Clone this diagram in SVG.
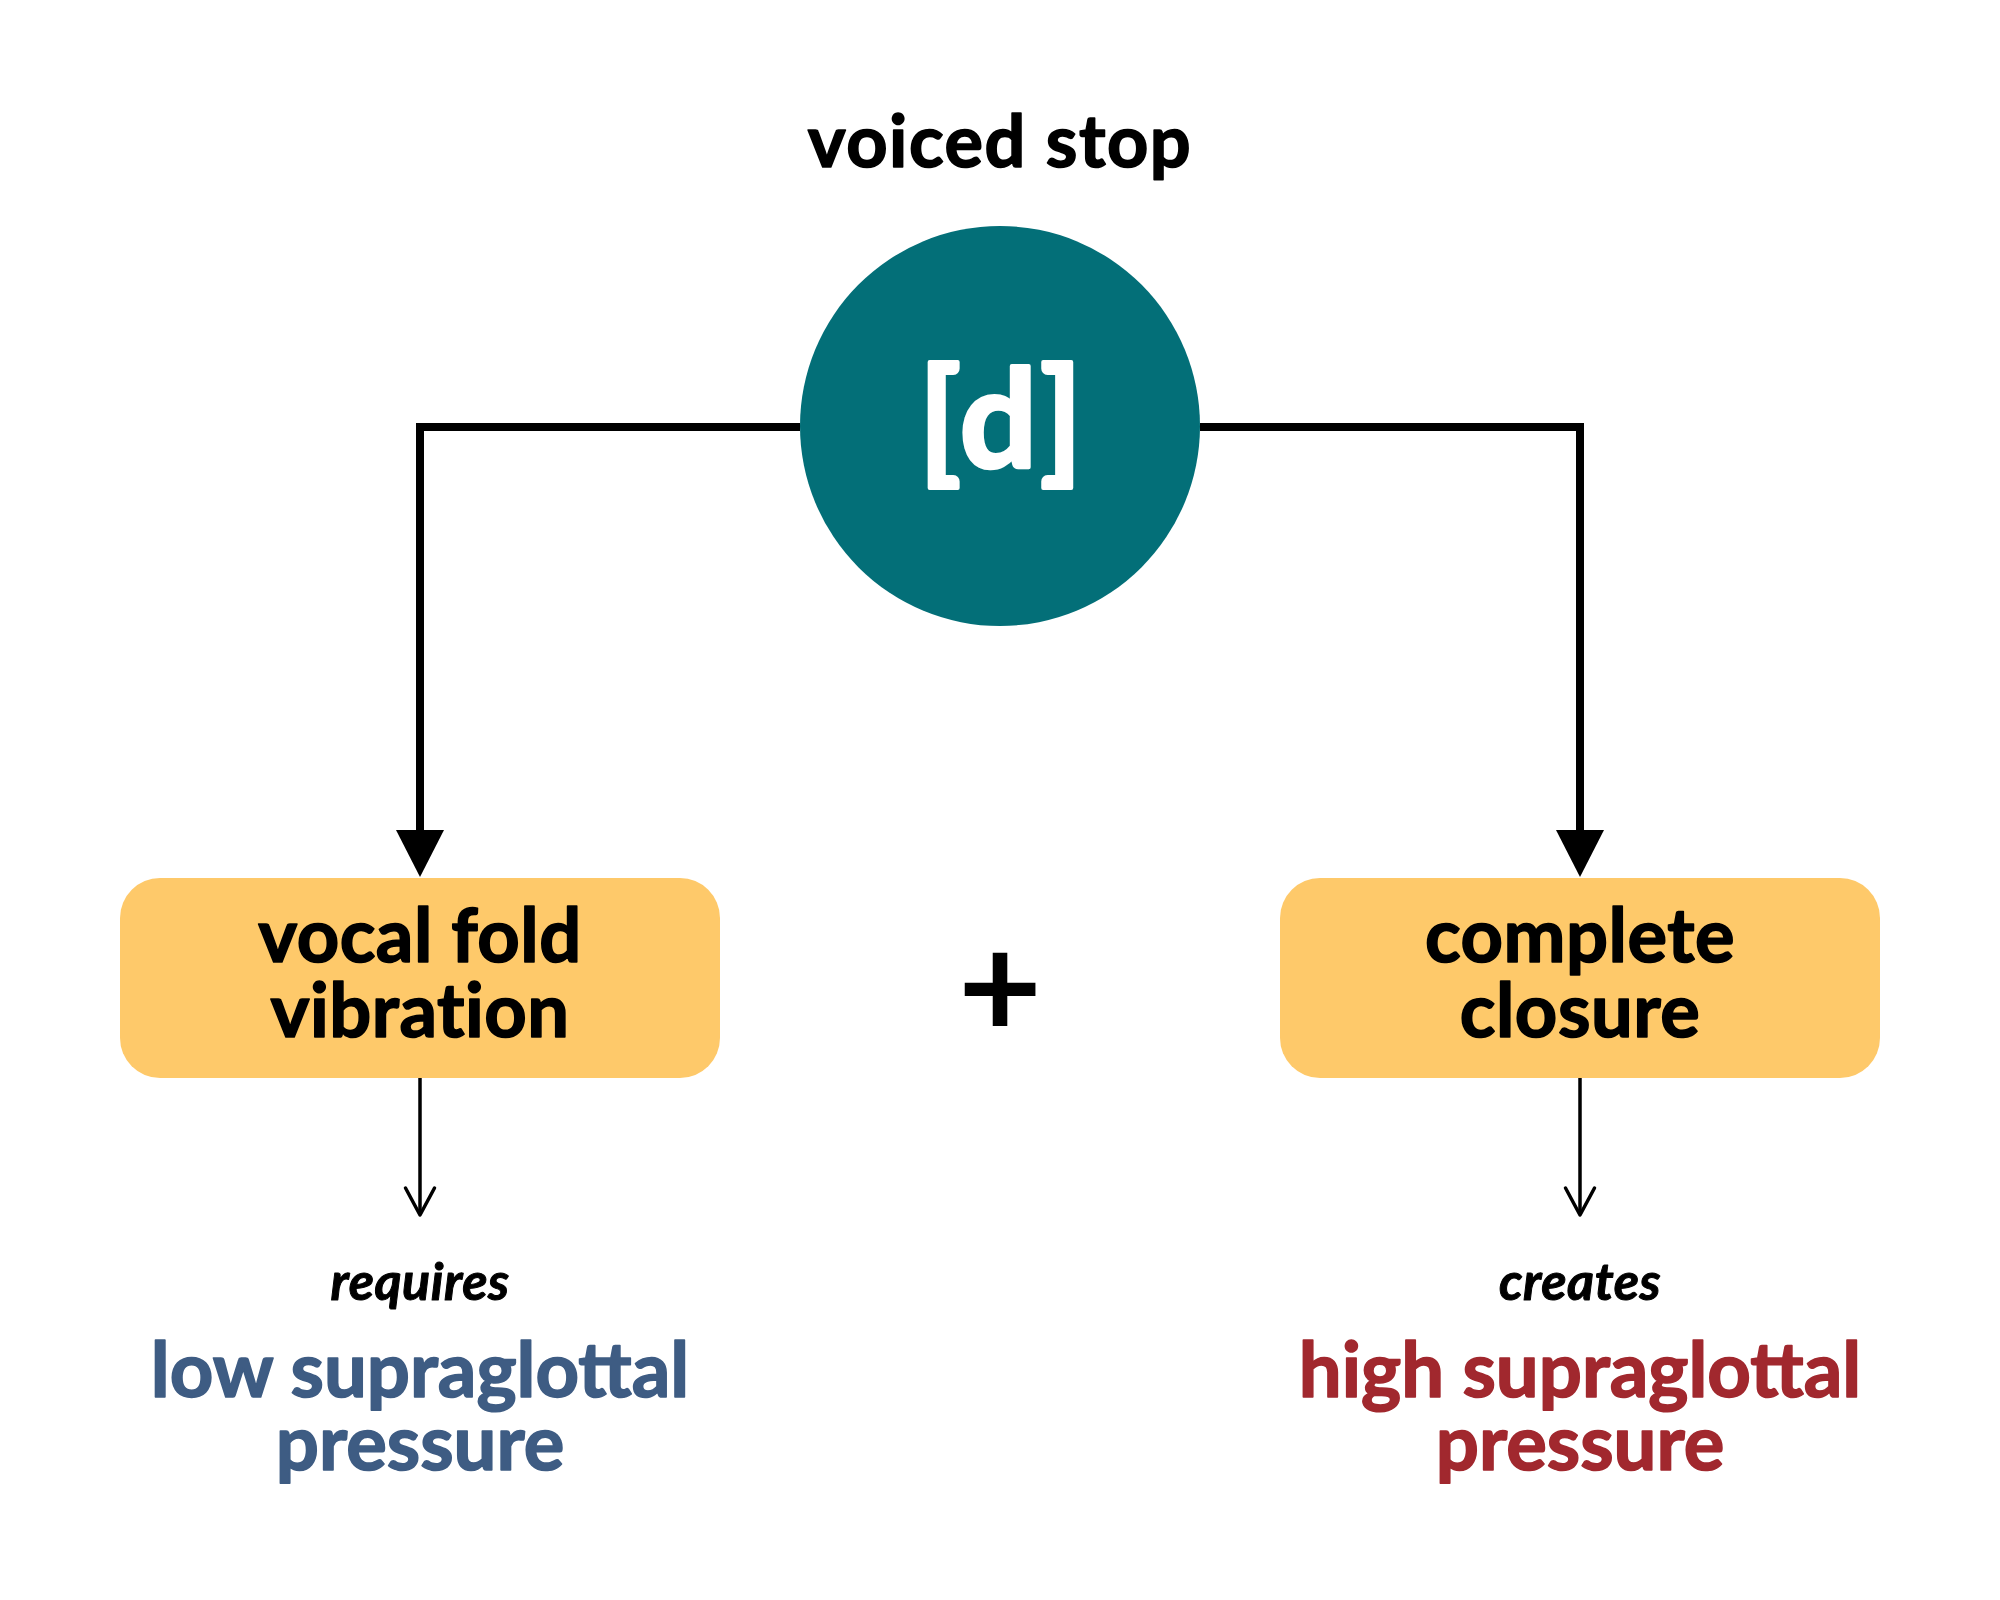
<svg xmlns="http://www.w3.org/2000/svg" width="2000" height="1600" viewBox="0 0 2000 1600">
<defs>
<style>
.t{font-family:Lato,"Noto Sans","Liberation Sans",sans-serif;font-weight:700;text-anchor:middle;stroke-linejoin:round}
.title{font-size:72px;letter-spacing:1.5px;fill:#000;stroke:#000;stroke-width:1.6px}
.box{fill:#fec96a}
.boxt{font-size:74px;letter-spacing:0.5px;fill:#000;stroke:#000;stroke-width:1.6px}
.verb{font-size:52px;letter-spacing:0.5px;font-style:italic;fill:#000;stroke:#000;stroke-width:1px}
.res{font-size:76px;stroke-width:1.6px}
.blue{fill:#3e5c83;stroke:#3e5c83}
.red{fill:#a1282e;stroke:#a1282e}
.thick{fill:none;stroke:#000;stroke-width:8}
.thin{fill:none;stroke:#000;stroke-width:3.5}
</style>
<marker id="big" markerUnits="userSpaceOnUse" markerWidth="60" markerHeight="60" viewBox="-2 -30 60 60" refX="0" refY="0" orient="auto">
<path d="M0,-24 L47,0 L0,24 Z" fill="#000"/>
</marker>
<marker id="open" markerUnits="userSpaceOnUse" markerWidth="40" markerHeight="40" viewBox="-32 -20 40 40" refX="0" refY="0" orient="auto">
<path d="M-27,-14.5 L0,0 L-27,14.5" fill="none" stroke="#000" stroke-width="3.5" stroke-linecap="round" stroke-linejoin="round"/>
</marker>
</defs>
<rect width="2000" height="1600" fill="#fff"/>
<g id="connectors">
<path class="thick" d="M800,427 H420 V830" marker-end="url(#big)"/>
<path class="thick" d="M1200,427 H1580 V830" marker-end="url(#big)"/>
<path class="thin" d="M420,1078 V1215" marker-end="url(#open)"/>
<path class="thin" d="M1580,1078 V1215" marker-end="url(#open)"/>
</g>
<g id="title">
<text class="t title" x="1000" y="167">voiced stop</text>
</g>
<g id="node-d">
<circle cx="1000" cy="426" r="200" fill="#036f78"/>
<text class="t" x="1002" y="467" font-size="136" letter-spacing="3" fill="#fff" stroke="#fff" stroke-width="4">[d]</text>
</g>
<g id="node-vocal">
<rect class="box" x="120" y="878" width="600" height="200" rx="40"/>
<text class="t boxt" x="420" y="962">vocal fold</text>
<text class="t boxt" x="420" y="1037">vibration</text>
</g>
<g id="node-closure">
<rect class="box" x="1280" y="878" width="600" height="200" rx="40"/>
<text class="t boxt" x="1580" y="962">complete</text>
<text class="t boxt" x="1580" y="1037">closure</text>
</g>
<g id="plus">
<text class="t" x="1000" y="1038" font-size="145" fill="#000">+</text>
</g>
<g id="low">
<text class="t verb" x="420" y="1300">requires</text>
<text class="t res blue" x="420" y="1397">low supraglottal</text>
<text class="t res blue" x="420" y="1470">pressure</text>
</g>
<g id="high">
<text class="t verb" x="1580" y="1300">creates</text>
<text class="t res red" x="1580" y="1397">high supraglottal</text>
<text class="t res red" x="1580" y="1470">pressure</text>
</g>
</svg>
